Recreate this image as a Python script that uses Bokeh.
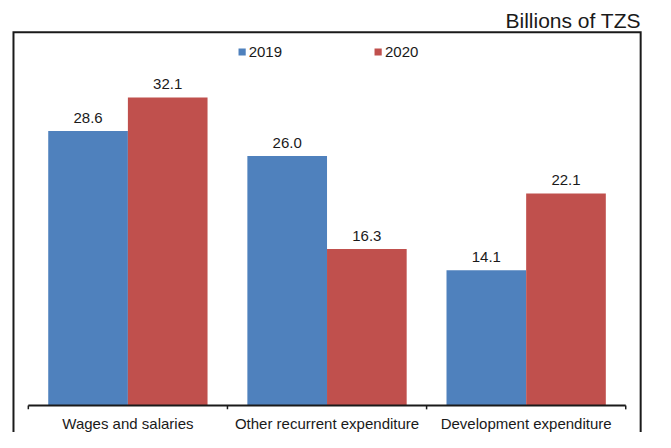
from bokeh.plotting import figure
from bokeh.models import Legend, LegendItem
from bokeh.embed import file_html
from bokeh.resources import INLINE
from bokeh.core.properties import value

# ---- data ----
categories = ["Wages and salaries", "Other recurrent expenditure", "Development expenditure"]
series_names = ["2019", "2020"]
values_2019 = [28.6, 26.0, 14.1]
values_2020 = [32.1, 16.3, 22.1]
unit_label = "Billions of TZS"

# ---- style / layout ----
BLUE = "#4F81BD"
RED = "#C0504D"
INK = "#1a1a1a"
FONT = value("Liberation Sans")
W, H = 655, 432              # canvas size (fits window with 8px margin)
REF_W, REF_H = 671, 448      # reference picture size
SX, SY = W / REF_W, H / REF_H
X0_REF = 130.5               # reference x of first category centre
GROUP_REF = 204.0            # reference px between category centres
Y0_REF = 420.0               # reference y of value 0
PX_PER_UNIT_REF = 9.95       # reference px per billion


def dx(px):
    return (px - X0_REF) / GROUP_REF


def dy(py):
    return (Y0_REF - py) / PX_PER_UNIT_REF


p = figure(width=W, height=H,
           x_range=(dx(0), dx(REF_W)),
           y_range=(dy(REF_H), dy(0)),
           output_backend="svg", toolbar_location=None,
           x_axis_location=None, y_axis_location=None,
           min_border=0, min_border_left=0, min_border_right=0,
           min_border_top=0, min_border_bottom=0)
p.grid.visible = False
p.outline_line_color = None
p.background_fill_color = "white"
p.border_fill_color = "white"

# chart box (top, left, right sides; bottom lies below the window)
p.line(x=[dx(13.3), dx(13.3), dx(655.8), dx(655.8)],
       y=[dy(470), dy(33), dy(33), dy(470)],
       line_color=INK, line_width=2, line_join="miter")

n = len(categories)
bw = 0.4
x19 = [i - bw / 2 for i in range(n)]
x20 = [i + bw / 2 for i in range(n)]

r19 = p.vbar(x=x19, top=values_2019, width=bw, bottom=0,
             fill_color=BLUE, line_color=None)
r20 = p.vbar(x=x20, top=values_2020, width=bw, bottom=0,
             fill_color=RED, line_color=None)

# value labels
for xs, vals in ((x19, values_2019), (x20, values_2020)):
    p.text(x=xs, y=vals, text=[f"{v:.1f}" for v in vals],
           y_offset=-13.5 * SY, text_align="center", text_baseline="middle",
           text_font=FONT, text_font_size="15px", text_color=INK)

# category axis drawn at y = 0
p.segment(x0=[-0.5], y0=[0], x1=[n - 0.5], y1=[0],
          line_color=INK, line_width=2)
ticks = [i - 0.5 for i in range(n + 1)]
p.segment(x0=ticks, y0=[0] * len(ticks), x1=ticks,
          y1=[-4 / PX_PER_UNIT_REF] * len(ticks),
          line_color=INK, line_width=1.5)
p.text(x=list(range(n)), y=[0] * n, text=categories,
       y_offset=19 * SY, text_align="center", text_baseline="middle",
       text_font=FONT, text_font_size="15px", text_color=INK)

# unit label top right
p.text(x=[dx(656)], y=[dy(21)], text=[unit_label],
       text_align="right", text_baseline="middle",
       text_font=FONT, text_font_size="21px", text_color=INK)

legend = Legend(items=[LegendItem(label=series_names[0], renderers=[r19]),
                       LegendItem(label=series_names[1], renderers=[r20])],
                location="top_center", orientation="horizontal",
                glyph_width=9, glyph_height=9, label_standoff=3,
                spacing=91, padding=0, margin=41,
                label_height=20,
                border_line_color=None, background_fill_alpha=0,
                label_text_font="Liberation Sans", label_text_font_size="15px",
                label_text_color=INK)
p.add_layout(legend)

open("out.html", "w").write(file_html(p, INLINE))
